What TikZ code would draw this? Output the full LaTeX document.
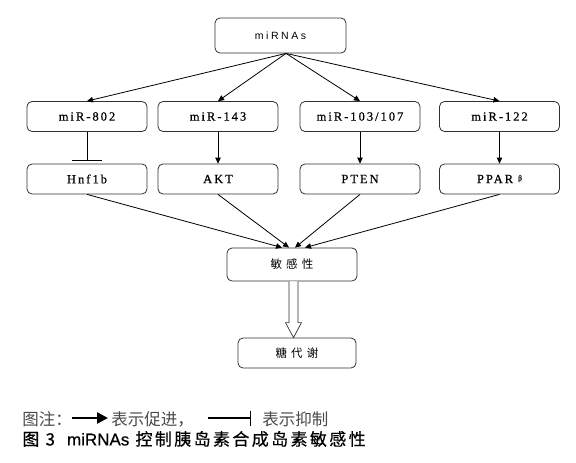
\documentclass[tikz,border=0pt]{standalone}
\usepackage{fontspec}
\setmainfont{Liberation Serif}
\newfontfamily\cajafont[LetterSpace=16,FakeBold=0.6]{Liberation Serif}
\newfontfamily\cimafont[LetterSpace=24]{Liberation Sans}
\newfontfamily\cjkcaja[LetterSpace=35]{Noto Sans CJK SC}
\newfontfamily\cjk{Noto Sans CJK SC}
\newfontfamily\cjkpie[LetterSpace=14,FakeBold=0.5]{Noto Sans CJK SC}
\newfontfamily\piefont[FakeBold=0.5]{Liberation Sans}
\usepackage{tikz}
\usetikzlibrary{positioning,arrows.meta,calc}
\definecolor{borde}{HTML}{303030}
\definecolor{gris}{HTML}{4A4A4A}

\begin{document}
\begin{tikzpicture}[x=1pt,y=-1pt,line width=0.8pt,
    caja/.style={draw=borde,rounded corners=5pt,minimum width=120pt,minimum height=30pt,inner sep=0pt,font=\cajafont\fontsize{12.5}{14}\selectfont},
    flecha/.style={-{Triangle[length=6pt,width=5.5pt]}},
    leyenda/.style={anchor=west,inner sep=0pt,text=gris,font=\cjk\fontsize{16.5}{18}\selectfont}]
  \useasboundingbox (0,0) rectangle (576,463);
  \node[caja,minimum width=131pt,minimum height=35pt,font=\cimafont\fontsize{10.5}{12}\selectfont] (mirnas) at (280.5,35.5) {miRNAs};
  \coordinate (origen) at ($(mirnas.south)+(5.5,0)$);
  \node[caja,minimum width=130pt,minimum height=33pt,font=\cjkcaja\fontsize{11.5}{13}\selectfont] (sens) at (292,264.5) {敏感性};
  \node[caja,minimum width=118pt,font=\cjkcaja\fontsize{11.5}{13}\selectfont] (gluc) at (297,353) {糖代谢};
  \foreach \n/\x/\mir/\gen/\dx in {a/87/miR-802/Hnf1b/-10, b/218/miR-143/AKT/-3, c/360/{miR-103/107}/PTEN/3, d/499.5/miR-122/{PPAR\ \raisebox{2.5pt}{\fontsize{7.5}{8}\selectfont β}}/13}{
    \node[caja] (mir\n) at (\x,116.5) {\mir};
    \node[caja] (gen\n) at (\x,179) {\gen};
    \draw[flecha] (origen) -- (mir\n.north);
    \draw[flecha] (gen\n.south) -- ($(sens.north)+(\dx,0)$);
  }
  % miR-802 inhibe, el resto promueve
  \draw[-{Bar[width=30pt]},shorten >=3pt] (mira) -- (gena);
  \foreach \n in {b,c,d}{ \draw[flecha] (mir\n) -- (gen\n); }
  % flecha hueca hacia el metabolismo
  \coordinate (s) at ($(sens.south)+(1.5,0)$);
  \coordinate (g) at ($(gluc.north)+(-3.5,0)$);
  \draw[borde,line width=0.7pt,fill=white] ($(s)+(-4.5,0)$) -- ($(g)+(-4.5,-15)$) -- ($(g)+(-8,-15)$) -- (g) -- ($(g)+(8,-15)$) -- ($(g)+(4.5,-15)$) -- ($(s)+(4.5,0)$);
  % leyenda
  \node[leyenda] (ley1) at (22,419) {图注：};
  \coordinate (p1) at (72,418); \coordinate (p2) at (108,418);
  \draw[line width=2.6pt,-{Triangle[length=11pt,width=11pt]}] (p1) -- (p2);
  \node[leyenda] (ley2) at (111,419) {表示促进，};
  \coordinate (q1) at (208,418); \coordinate (q2) at (251,418);
  \draw[line width=1.3pt,-{Bar[width=15pt,line width=1.3pt]}] (q1) -- (q2);
  \node[leyenda] (ley3) at (262,419) {表示抑制};
  \node[anchor=west,inner sep=0pt,font=\cjkpie\fontsize{17}{19}\selectfont] (pie) at (22,439) {图 3\hspace{12pt}{\piefont miRNAs} 控制胰岛素合成岛素敏感性};
\end{tikzpicture}
\end{document}
